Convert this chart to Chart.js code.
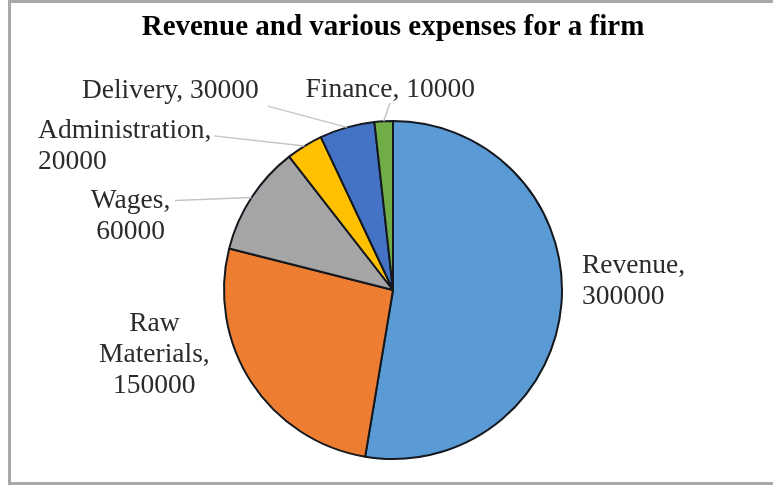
<!DOCTYPE html>
<html>
<head>
<meta charset="utf-8">
<script src="https://cdn.jsdelivr.net/npm/chart.js@4/dist/chart.umd.min.js"></script>
<style>
  html, body { margin: 0; padding: 0; background: #ffffff; overflow: hidden; }
  #wrap { position: relative; width: 773px; height: 486px; }
  #frame { position: absolute; left: 8px; top: 0; width: 800px; height: 479px;
           border: 3px solid #a9a9a9; border-right: none; pointer-events: none; }
  canvas { display: block; }
</style>
</head>
<body>
<div id="wrap">
  <canvas id="c" width="773" height="486"></canvas>
  <div id="frame"></div>
</div>
<script>
// ---- data ----
const categories = ["Revenue", "Raw Materials", "Wages", "Administration", "Delivery", "Finance"];
const values = [300000, 150000, 60000, 20000, 30000, 10000];
const sliceColors = ["#5B9BD5", "#ED7D31", "#A5A5A5", "#FFC000", "#4472C4", "#70AD47"];
const labelLines = [
  ["Revenue,", "300000"],
  ["Raw", "Materials,", "150000"],
  ["Wages,", "60000"],
  ["Administration,", "20000"],
  ["Delivery, 30000"],
  ["Finance, 10000"]
];
const chartTitle = "Revenue and various expenses for a firm";

// label placement, in units of the pie radius relative to pie centre
const labelLayout = [
  { dx: 1.118, dy: -0.100, align: "left",   leader: null },
  { dx: -1.412, dy: 0.241, align: "center", leader: null },
  { dx: -1.553, dy: -0.488, align: "center", leader: [-1.29, -0.53] },
  { dx: -2.100, dy: -0.900, align: "left",   leader: [-1.059, -0.912] },
  { dx: -0.794, dy: -1.135, align: "right",  leader: [-0.741, -1.088] },
  { dx: -0.518, dy: -1.141, align: "left",   leader: [-0.018, -1.106] }
];

const labelPlugin = {
  id: "sliceLabels",
  afterDatasetsDraw(chart) {
    const ctx = chart.ctx;
    const meta = chart.getDatasetMeta(0);
    ctx.save();
    meta.data.forEach((arc, i) => {
      const p = arc.getProps(["x", "y", "startAngle", "endAngle", "outerRadius"], true);
      const r = p.outerRadius;
      const L = labelLayout[i];
      const mid = (p.startAngle + p.endAngle) / 2;
      if (L.leader) {
        ctx.strokeStyle = "#c4c4c4";
        ctx.lineWidth = 1.5;
        ctx.beginPath();
        ctx.moveTo(p.x + L.leader[0] * r, p.y + L.leader[1] * r);
        ctx.lineTo(p.x + Math.cos(mid) * r, p.y + Math.sin(mid) * r);
        ctx.stroke();
      }
      ctx.fillStyle = "#2b2b2b";
      ctx.font = "27.5px 'Liberation Serif', 'Times New Roman', serif";
      ctx.textAlign = L.align;
      ctx.textBaseline = "alphabetic";
      const lx = p.x + L.dx * r;
      let ly = p.y + L.dy * r;
      labelLines[i].forEach(line => {
        ctx.fillText(line, lx, ly);
        ly += 31;
      });
    });
    ctx.restore();
  }
};

new Chart(document.getElementById("c"), {
  type: "pie",
  data: {
    labels: categories,
    datasets: [{
      data: values,
      backgroundColor: sliceColors,
      borderColor: "#14181f",
      borderWidth: 2
    }]
  },
  options: {
    responsive: false,
    animation: false,
    devicePixelRatio: 1,
    layout: { padding: { top: 0, bottom: 26, left: 13, right: 0 } },
    plugins: {
      legend: { display: false },
      tooltip: { enabled: false },
      title: {
        display: true,
        text: chartTitle,
        color: "#000000",
        font: { family: "'Liberation Serif', 'Times New Roman', serif", size: 29, weight: "bold", lineHeight: 1.2 },
        padding: { top: 9.8, bottom: 75.4 }
      }
    }
  },
  plugins: [labelPlugin]
});
</script>
</body>
</html>
